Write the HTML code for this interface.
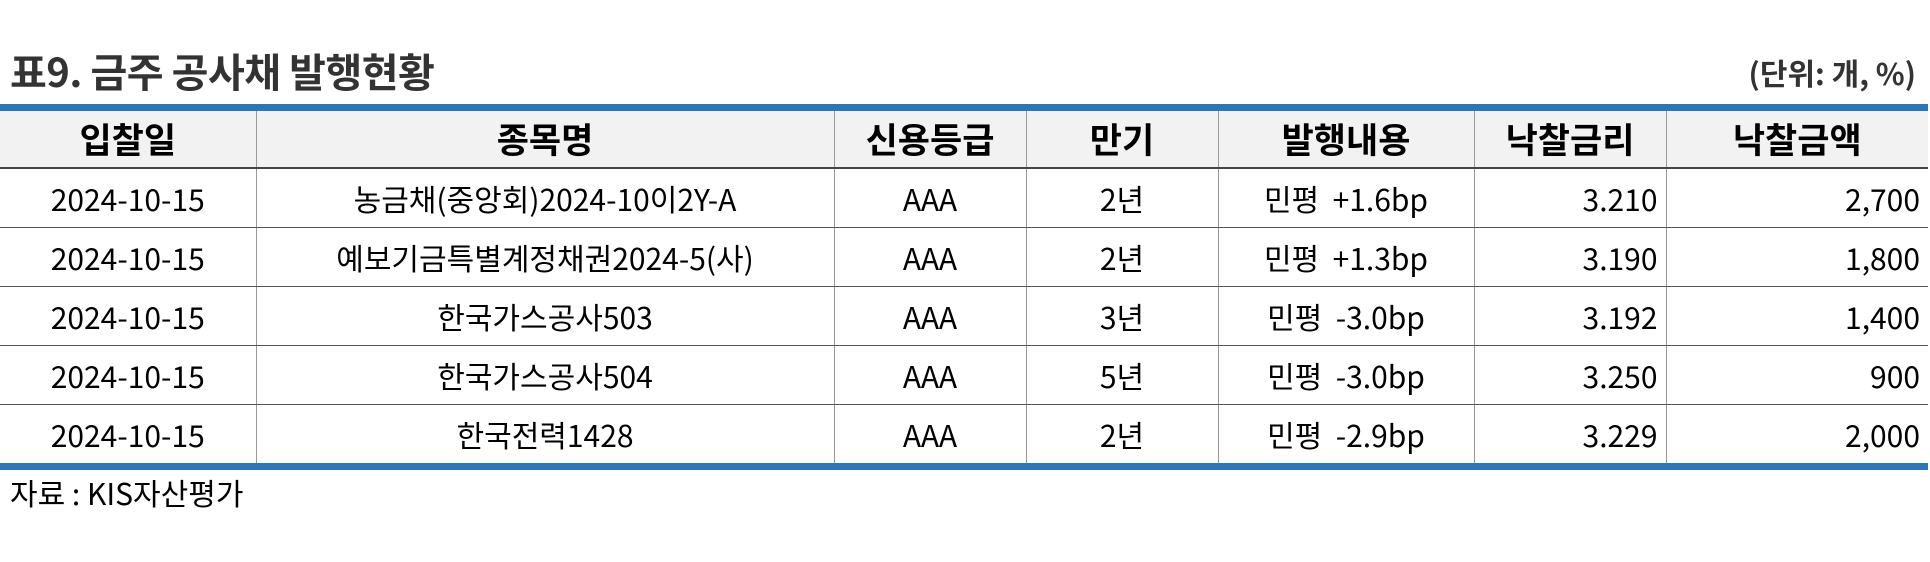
<!DOCTYPE html>
<html><head><meta charset="utf-8"><style>
body{margin:0;width:1930px;height:562px;background:#fff;overflow:hidden;font-family:"Liberation Sans","Noto Sans CJK KR",sans-serif;color:#000;position:relative}
#title{position:absolute;left:10px;top:46px;font-size:40px;font-weight:bold;color:#333;line-height:48px;font-family:"Noto Sans CJK KR",sans-serif;letter-spacing:-0.5px}
#unit{position:absolute;right:14px;top:52px;font-size:30px;font-weight:bold;color:#333;line-height:40px;font-family:"Noto Sans CJK KR",sans-serif}
table{position:absolute;left:0;top:104px;width:1928px;border-collapse:collapse;table-layout:fixed}
thead tr{height:60px;background:#f2f2f2}
thead{border-top:7px solid #2e75b6}
th{font-size:35px;font-weight:bold;border-left:1px solid #999;border-bottom:2px solid #444;padding:0;line-height:40px;font-family:"Noto Sans CJK KR",sans-serif}
td{font-size:30px;border-left:1px solid #999;border-bottom:1px solid #555;padding:0 8px;height:58px;line-height:34px;text-align:center;font-family:"Noto Sans CJK KR",sans-serif}
th:first-child,td:first-child{border-left:none}
td.r{text-align:right}
tbody tr:last-child td{border-bottom:7px solid #2e75b6}
#src{position:absolute;left:10px;top:472px;font-size:30px;line-height:40px;font-family:"Noto Sans CJK KR",sans-serif}
</style></head><body>
<div id="title">표9. 금주 공사채 발행현황</div>
<div id="unit">(단위: 개, %)</div>
<table>
<colgroup><col style="width:256px"><col style="width:578px"><col style="width:192px"><col style="width:192px"><col style="width:256px"><col style="width:192px"><col style="width:262px"></colgroup>
<thead><tr>
<th>입찰일</th>
<th>종목명</th>
<th>신용등급</th>
<th>만기</th>
<th>발행내용</th>
<th>낙찰금리</th>
<th>낙찰금액</th>
</tr></thead>
<tbody>
<tr><td>2024-10-15</td><td>농금채(중앙회)2024-10이2Y-A</td><td>AAA</td><td>2년</td><td>민평 &nbsp;+1.6bp</td><td class="r">3.210</td><td class="r">2,700</td></tr>
<tr><td>2024-10-15</td><td>예보기금특별계정채권2024-5(사)</td><td>AAA</td><td>2년</td><td>민평 &nbsp;+1.3bp</td><td class="r">3.190</td><td class="r">1,800</td></tr>
<tr><td>2024-10-15</td><td>한국가스공사503</td><td>AAA</td><td>3년</td><td>민평 &nbsp;-3.0bp</td><td class="r">3.192</td><td class="r">1,400</td></tr>
<tr><td>2024-10-15</td><td>한국가스공사504</td><td>AAA</td><td>5년</td><td>민평 &nbsp;-3.0bp</td><td class="r">3.250</td><td class="r">900</td></tr>
<tr><td>2024-10-15</td><td>한국전력1428</td><td>AAA</td><td>2년</td><td>민평 &nbsp;-2.9bp</td><td class="r">3.229</td><td class="r">2,000</td></tr>
</tbody></table>
<div id="src">자료 : KIS자산평가</div>
</body></html>
